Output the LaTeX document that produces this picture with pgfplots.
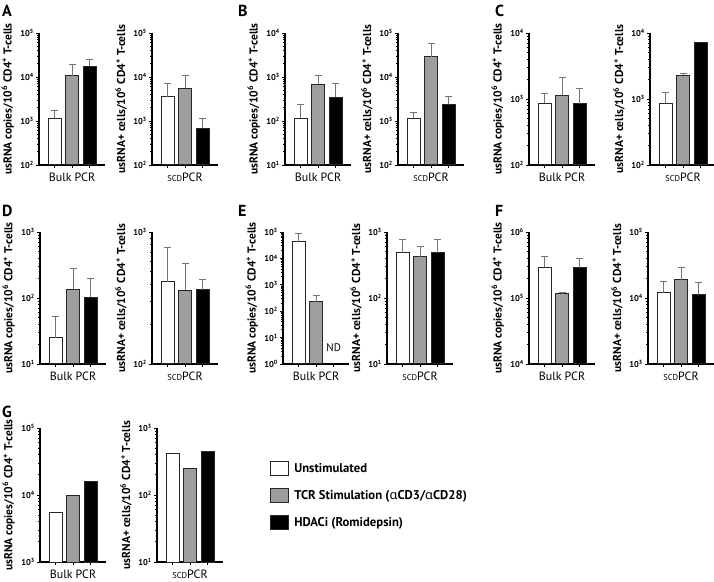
\documentclass[border=0pt]{standalone}
\usepackage{pgfplots}
\pgfplotsset{compat=1.18}
\usepackage{fontspec}
\setmainfont{PT Sans}
\newfontfamily\grk{Noto Sans}
\newcommand{\ylL}{usRNA copies/10\textsuperscript{6} CD4\textsuperscript{+} T-cells}
\newcommand{\ylR}{usRNA+ cells/10\textsuperscript{6} CD4\textsuperscript{+} T-cells}
\newcommand{\xlB}{Bulk PCR}
\newcommand{\xlS}{{\fontsize{8.5}{9}\selectfont SCD}PCR}
\pgfplotsset{
  every axis/.append style={
    anchor=south west, scale only axis, width=66pt, height=132pt,
    xmin=0.1, xmax=3.87,
    axis x line*=bottom, axis y line*=left,
    axis line style={line width=1.1pt, black},
    xtick={1,2,3}, xticklabels={},
    ytick={1,10,100,1000,10000,100000,1000000},
    minor ytick={2,3,4,5,6,7,8,9,20,30,40,50,60,70,80,90,200,300,400,500,600,700,800,900,2000,3000,4000,5000,6000,7000,8000,9000,20000,30000,40000,50000,60000,70000,80000,90000,200000,300000,400000,500000,600000,700000,800000,900000},
    yticklabel={\pgfmathtruncatemacro\myexp{round(\tick)}10\textsuperscript{\myexp}},
    yticklabel style={font=\bfseries\fontsize{8.5}{9}\selectfont, inner xsep=2pt},
    tick align=outside, major tick length=3pt, minor tick length=1.8pt,
    every tick/.style={black, line width=0.8pt},
    bar width=0.72,
    every axis y label/.style={at={(axis description cs:0,0.5)}, xshift=-23pt, rotate=90, anchor=south, inner sep=2pt, font=\bfseries\fontsize{11.5}{12}\selectfont},
    every axis x label/.style={at={(axis description cs:0.5,0)}, anchor=north, yshift=-4pt, font=\fontsize{12}{13}\selectfont},
  },
  wbar/.style={ybar, bar shift=0pt, fill=white, draw=black!85, line width=1pt},
  gbar/.style={ybar, bar shift=0pt, fill=black!38, draw=black!85, line width=1pt},
  kbar/.style={ybar, bar shift=0pt, fill=black, draw=black!85, line width=1pt},
  eb/.style={/pgfplots/error bars/y dir=plus, /pgfplots/error bars/y explicit,
    /pgfplots/error bars/error bar style={line width=0.9pt, black!55},
    /pgfplots/error bars/error mark options={rotate=90, mark size=3.5pt, line width=0.9pt, black!55}},
}
\begin{document}
\begin{tikzpicture}
\path[use as bounding box] (0pt,0pt) rectangle (714pt,581pt);
\tikzset{plab/.style={anchor=north west, inner sep=0pt, font=\bfseries\fontsize{16}{16}\selectfont}}
\node[plab] at (2pt,576pt) {A};
\node[plab] at (238pt,576pt) {B};
\node[plab] at (495pt,576pt) {C};
\node[plab] at (2pt,376pt) {D};
\node[plab] at (238pt,376pt) {E};
\node[plab] at (495pt,376pt) {F};
\node[plab] at (2pt,175pt) {G};

% ---- A
\begin{axis}[ymode=log, log basis y=10, log origin y=infty, at={(39pt,416pt)}, ymin=1e2, ymax=1e5, ylabel={\ylL}, xlabel={\xlB}]
\addplot[wbar, eb] coordinates {(1,1150) +- (0,630)};
\addplot[gbar, eb] coordinates {(2,10700) +- (0,8800)};
\addplot[kbar, eb] coordinates {(3,17400) +- (0,7600)};
\end{axis}
\begin{axis}[ymode=log, log basis y=10, log origin y=infty, at={(152pt,416pt)}, ymin=1e2, ymax=1e5, ylabel={\ylR}, xlabel={\xlS}]
\addplot[wbar, eb] coordinates {(1,3550) +- (0,3750)};
\addplot[gbar, eb] coordinates {(2,5500) +- (0,5200)};
\addplot[kbar, eb] coordinates {(3,680) +- (0,470)};
\end{axis}
% ---- B
\begin{axis}[ymode=log, log basis y=10, log origin y=infty, at={(285pt,416pt)}, ymin=1e1, ymax=1e4, ylabel={\ylL}, xlabel={\xlB}]
\addplot[wbar, eb] coordinates {(1,115) +- (0,125)};
\addplot[gbar, eb] coordinates {(2,690) +- (0,420)};
\addplot[kbar, eb] coordinates {(3,350) +- (0,375)};
\end{axis}
\begin{axis}[ymode=log, log basis y=10, log origin y=infty, at={(398pt,416pt)}, ymin=1e2, ymax=1e5, ylabel={\ylR}, xlabel={\xlS}]
\addplot[wbar, eb] coordinates {(1,1150) +- (0,450)};
\addplot[gbar, eb] coordinates {(2,29000) +- (0,28000)};
\addplot[kbar, eb] coordinates {(3,2400) +- (0,1160)};
\end{axis}
% ---- C
\begin{axis}[ymode=log, log basis y=10, log origin y=infty, at={(529pt,416pt)}, ymin=1e2, ymax=1e4, ylabel={\ylL}, xlabel={\xlB}]
\addplot[wbar, eb] coordinates {(1,860) +- (0,340)};
\addplot[gbar, eb] coordinates {(2,1130) +- (0,970)};
\addplot[kbar, eb] coordinates {(3,840) +- (0,600)};
\end{axis}
\begin{axis}[ymode=log, log basis y=10, log origin y=infty, at={(650pt,416pt)}, ymin=1e2, ymax=1e4, ylabel={\ylR}, xlabel={\xlS}]
\addplot[wbar, eb] coordinates {(1,860) +- (0,390)};
\addplot[gbar, eb] coordinates {(2,2290) +- (0,110)};
\addplot[kbar] coordinates {(3,7200)};
\end{axis}
% ---- D
\begin{axis}[ymode=log, log basis y=10, log origin y=infty, at={(40pt,217pt)}, ymin=1e1, ymax=1e3, ylabel={\ylL}, xlabel={\xlB}]
\addplot[wbar, eb] coordinates {(1,25) +- (0,28)};
\addplot[gbar, eb] coordinates {(2,135) +- (0,145)};
\addplot[kbar, eb] coordinates {(3,102) +- (0,98)};
\end{axis}
\begin{axis}[ymode=log, log basis y=10, log origin y=infty, at={(152pt,217pt)}, ymin=1e2, ymax=1e3, ylabel={\ylR}, xlabel={\xlS}]
\addplot[wbar, eb] coordinates {(1,420) +- (0,350)};
\addplot[gbar, eb] coordinates {(2,361) +- (0,219)};
\addplot[kbar, eb] coordinates {(3,365) +- (0,75)};
\end{axis}
% ---- E
\begin{axis}[ymode=log, log basis y=10, log origin y=infty, at={(283pt,217pt)}, ymin=1e0, ymax=1e5, ylabel={\ylL}, xlabel={\xlB}]
\addplot[wbar, eb] coordinates {(1,43000) +- (0,46000)};
\addplot[gbar, eb] coordinates {(2,225) +- (0,185)};
\node[font=\fontsize{11}{12}\selectfont] at (axis cs:3,4) {ND};
\end{axis}
\begin{axis}[ymode=log, log basis y=10, log origin y=infty, at={(387pt,217pt)}, ymin=1e1, ymax=1e3, ylabel={\ylR}, xlabel={\xlS}]
\addplot[wbar, eb] coordinates {(1,485) +- (0,275)};
\addplot[gbar, eb] coordinates {(2,422) +- (0,178)};
\addplot[kbar, eb] coordinates {(3,485) +- (0,275)};
\end{axis}
% ---- F
\begin{axis}[ymode=log, log basis y=10, log origin y=infty, at={(529pt,217pt)}, ymin=1e4, ymax=1e6, ylabel={\ylL}, xlabel={\xlB}]
\addplot[wbar, eb] coordinates {(1,290000) +- (0,130000)};
\addplot[gbar, eb] coordinates {(2,115000) +- (0,5000)};
\addplot[kbar, eb] coordinates {(3,285000) +- (0,110000)};
\end{axis}
\begin{axis}[ymode=log, log basis y=10, log origin y=infty, at={(648pt,217pt)}, ymin=1e3, ymax=1e5, ylabel={\ylR}, xlabel={\xlS}]
\addplot[wbar, eb] coordinates {(1,12000) +- (0,5700)};
\addplot[gbar, eb] coordinates {(2,19000) +- (0,9700)};
\addplot[kbar, eb] coordinates {(3,11200) +- (0,6100)};
\end{axis}
% ---- G
\begin{axis}[ymode=log, log basis y=10, log origin y=infty, height=134pt, at={(40pt,19pt)}, ymin=1e3, ymax=1e5, ylabel={\ylL}, xlabel={\xlB}]
\addplot[wbar] coordinates {(1,5500)};
\addplot[gbar] coordinates {(2,9700)};
\addplot[kbar] coordinates {(3,15800)};
\end{axis}
\begin{axis}[ymode=log, log basis y=10, log origin y=infty, height=134pt, at={(157pt,19pt)}, ymin=1e1, ymax=1e3, ylabel={\ylR}, xlabel={\xlS},
  legend cell align=left,
  legend style={at={(1.712,0.755)}, anchor=north west, draw=none, fill=none, inner sep=0pt,
    row sep=12pt, font=\bfseries\fontsize{12.7}{14}\selectfont,
    nodes={inner xsep=5pt, inner ysep=1pt}}]
\addplot[wbar, forget plot] coordinates {(1,420)};
\addplot[gbar, forget plot] coordinates {(2,250)};
\addplot[kbar, forget plot] coordinates {(3,453)};
\addlegendimage{legend image code/.code={\draw[fill=white, draw=black!85, line width=1.1pt] (0pt,-7pt) rectangle (18pt,7pt);}}
\addlegendentry{Unstimulated}
\addlegendimage{legend image code/.code={\draw[fill=black!38, draw=black!85, line width=1.1pt] (0pt,-7pt) rectangle (18pt,7pt);}}
\addlegendentry{TCR Stimulation ({\grk α}CD3/{\grk α}CD28)}
\addlegendimage{legend image code/.code={\draw[fill=black, draw=black!85, line width=1.1pt] (0pt,-7pt) rectangle (18pt,7pt);}}
\addlegendentry{HDACi (Romidepsin)}
\end{axis}
\end{tikzpicture}
\end{document}
